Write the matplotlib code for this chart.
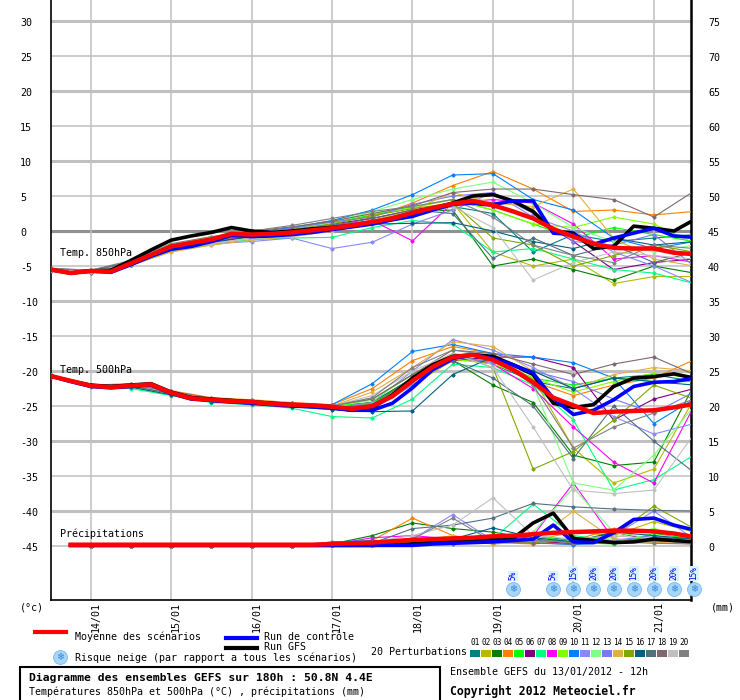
import matplotlib
matplotlib.use("Agg")
import matplotlib.pyplot as plt
import matplotlib.transforms as mtransforms
from matplotlib.lines import Line2D
from matplotlib.patches import Rectangle

plt.rcParams['font.family'] = ['DejaVu Sans Mono', 'DejaVu Sans']

# hours after the 13/01/2012 12h run
hours6 = list(range(0, 193, 6))
hours12 = list(range(0, 193, 12))
rain_hours6 = hours6[1:]
rain_hours12 = hours12[1:]

day_ticks = [12, 36, 60, 84, 108, 132, 156, 180]
day_labels = ['14/01', '15/01', '16/01', '17/01', '18/01', '19/01', '20/01', '21/01']

# mean of the scenarios, control run, GFS run (6-hourly)
mean_t850 = [-5.5, -6.0, -5.7, -5.8, -4.6, -3.4, -2.2, -1.7, -1.2, -0.4, -0.5, -0.4, -0.2, 0.1,
             0.4, 0.8, 1.3, 1.8, 2.6, 3.3, 3.9, 4.3, 3.7, 2.8, 1.8, 0.3, -0.8, -1.8, -2.4, -2.5,
             -2.5, -3.1, -3.3]
ctrl_t850 = [-5.5, -6.0, -5.7, -5.9, -4.8, -3.6, -2.6, -2.2, -1.5, -0.6, -0.8, -0.7, -0.5, -0.2,
             0.2, 0.6, 1.0, 1.6, 2.1, 3.0, 3.8, 4.0, 3.8, 4.3, 4.3, -0.3, -0.5, -1.9, -1.0, -0.3,
             0.4, -0.7, -0.9]
gfs_t850 = [-5.5, -6.0, -5.7, -5.6, -4.2, -2.7, -1.3, -0.7, -0.2, 0.5, 0.0, -0.2, 0.0, 0.3,
            0.5, 0.8, 1.2, 1.8, 2.3, 3.2, 4.0, 5.0, 5.2, 4.3, 2.8, 0.0, -0.3, -2.5, -2.2, 0.7,
            0.4, 0.0, 1.6]

mean_t500 = [-20.7, -21.4, -22.1, -22.3, -22.1, -21.9, -23.1, -23.9, -24.1, -24.3, -24.4, -24.7,
             -24.8, -24.9, -25.1, -25.4, -25.0, -23.6, -21.4, -19.4, -18.0, -17.7, -18.4, -19.8,
             -21.6, -23.8, -24.9, -26.0, -25.8, -25.7, -25.6, -25.2, -24.7]
ctrl_t500 = [-20.7, -21.5, -22.2, -22.4, -22.2, -22.0, -23.2, -24.0, -24.2, -24.4, -24.6, -24.8,
             -25.0, -25.1, -25.3, -25.6, -25.6, -24.6, -22.4, -19.8, -18.2, -17.7, -18.2, -19.1,
             -20.3, -23.9, -26.2, -25.6, -24.1, -22.2, -21.6, -21.5, -21.0]
gfs_t500 = [-20.7, -21.4, -22.0, -22.2, -22.0, -21.8, -23.0, -23.8, -24.0, -24.2, -24.4, -24.6,
            -24.8, -25.0, -25.2, -25.6, -25.2, -23.4, -21.0, -19.1, -17.9, -17.7, -17.9, -19.1,
            -20.5, -24.6, -25.2, -24.8, -22.2, -21.0, -20.8, -20.4, -21.0]

# precipitation (mm), from +6h
mean_rr = [0.2, 0.2, 0.2, 0.2, 0.2, 0.2, 0.2, 0.2, 0.2, 0.2, 0.2, 0.2, 0.2, 0.3, 0.4, 0.5,
           0.7, 0.9, 1.0, 1.1, 1.2, 1.4, 1.5, 1.7, 1.9, 2.0, 2.1, 2.2, 2.2, 2.1, 1.8, 1.3]
ctrl_rr = [0.1, 0.1, 0.1, 0.1, 0.1, 0.1, 0.1, 0.1, 0.1, 0.1, 0.1, 0.1, 0.1, 0.1, 0.1, 0.1,
           0.1, 0.1, 0.3, 0.4, 0.5, 0.6, 0.8, 1.0, 3.0, 0.6, 0.5, 1.9, 3.8, 4.0, 3.0, 2.3]
gfs_rr = [0.1, 0.1, 0.1, 0.1, 0.1, 0.1, 0.1, 0.1, 0.1, 0.1, 0.1, 0.1, 0.1, 0.1, 0.1, 0.1,
          0.2, 0.3, 0.5, 0.6, 0.8, 0.9, 1.1, 3.3, 4.7, 1.1, 0.8, 0.5, 0.6, 1.0, 0.8, 0.6]

# 20 perturbations (12-hourly)
pert_colors = ['#008080', '#b8b800', '#008000', '#ff8000', '#00ff00', '#800080', '#00ff80',
               '#ff00ff', '#80ff00', '#0080ff', '#8888ff', '#80ff80', '#7878f8', '#e0b040',
               '#80a800', '#006080', '#507080', '#806870', '#c0c0c0', '#808080']

pert_t850 = [
    [-5.6, -5.9, -4.8, -2.7, -1.5, -0.7, -0.2, 0.6, 1.4, 2.6, 3.5, 2.5, -3.0, -0.5, -1.5, -1.0, -0.5],
    [-5.5, -5.7, -4.6, -2.5, -1.5, -0.7, -0.3, 0.6, 1.5, 2.5, 4.0, -3.0, -5.0, -4.0, -7.5, -6.5, -6.5],
    [-5.6, -5.9, -4.5, -2.3, -1.6, -0.8, -0.2, 0.5, 1.5, 2.8, 3.0, -5.0, -4.0, -5.5, -7.0, -5.0, -6.0],
    [-5.5, -5.8, -4.9, -2.9, -1.8, -1.0, -0.5, 0.5, 2.0, 4.0, 6.5, 8.5, 6.0, 2.8, 3.0, 2.3, 2.8],
    [-5.5, -5.7, -4.5, -2.2, -1.0, -0.3, 0.5, 1.2, 2.3, 3.5, 4.5, 3.0, 1.0, -1.0, 0.5, -0.5, -1.5],
    [-5.6, -5.9, -4.6, -2.4, -1.3, -0.5, 0.2, 1.0, 1.8, 3.0, 4.0, 3.5, 2.0, -1.5, -5.5, -4.5, -4.0],
    [-5.6, -6.0, -4.9, -2.8, -2.0, -1.2, -1.0, -0.9, 0.5, 1.5, 1.0, -3.0, -2.5, -4.0, -5.5, -6.0, -7.5],
    [-5.7, -6.0, -4.8, -2.6, -1.7, -0.6, 0.2, 0.8, 1.5, -1.4, 4.0, 4.5, 4.0, 1.0, -4.0, -3.5, -4.5],
    [-5.5, -5.7, -4.4, -2.0, -0.8, -0.2, 0.4, 1.5, 2.5, 3.3, 4.5, 3.0, 1.0, 0.5, 2.0, 1.0, -1.7],
    [-5.6, -5.9, -4.8, -2.6, -1.4, -0.2, 0.5, 1.5, 3.0, 5.2, 8.0, 8.2, 4.5, 3.0, -1.0, -2.5, -1.5],
    [-5.5, -5.8, -4.6, -2.0, -1.8, -1.5, -1.0, -2.5, -1.6, 1.0, 3.0, 5.5, 2.0, 0.0, -3.0, -5.0, -7.5],
    [-5.5, -5.8, -4.7, -2.4, -1.2, -0.4, 0.3, 1.2, 2.8, 4.5, 6.0, 7.0, 4.0, 0.5, -1.5, -3.0, -2.0],
    [-5.4, -5.6, -4.5, -2.2, -1.2, -0.3, 0.4, 1.3, 2.0, 3.8, 5.0, 5.5, 2.5, -1.5, -2.0, -0.5, -5.0],
    [-5.6, -5.9, -4.9, -3.0, -2.0, -1.3, -0.8, 0.0, 1.5, 3.0, 5.5, 4.0, 3.5, 6.0, -1.0, -4.0, -5.0],
    [-5.5, -5.8, -4.6, -2.3, -1.1, -0.5, 0.2, 1.0, 2.2, 3.2, 4.0, -1.0, -2.0, -5.0, -3.5, -2.0, -3.0],
    [-5.5, -5.8, -4.7, -2.6, -1.6, -0.8, -0.3, 0.6, 1.0, 1.1, 1.2, 0.0, -1.5, -2.5, -1.0, -2.0, -1.5],
    [-5.4, -5.7, -4.5, -2.4, -1.3, -0.6, 0.0, 0.8, 1.8, 3.0, 2.5, -3.9, -1.0, -3.5, -2.0, -4.5, -3.0],
    [-5.4, -5.6, -4.4, -2.0, -1.0, 0.0, 0.6, 1.4, 2.5, 3.6, 5.5, 6.0, 6.0, 5.2, 4.5, 2.0, 5.7],
    [-5.5, -5.8, -4.7, -2.6, -1.8, -1.0, -0.8, 0.0, 1.0, 2.0, 3.5, 0.5, -7.0, -4.5, -3.0, -3.5, -4.0],
    [-5.3, -5.6, -4.2, -1.8, -0.8, 0.0, 0.8, 1.8, 2.8, 3.5, 4.5, 2.0, -2.0, -3.5, -4.5, -2.0, -2.5],
]

pert_t500 = [
    [-20.7, -22.1, -22.1, -23.1, -24.1, -24.4, -24.8, -25.1, -24.5, -21.0, -18.0, -19.0, -21.5, -22.5, -21.0, -20.5, -21.5],
    [-20.7, -22.1, -22.1, -23.0, -24.0, -24.3, -24.7, -25.0, -24.7, -22.0, -18.5, -18.5, -21.0, -31.0, -36.0, -34.0, -24.0],
    [-20.7, -22.1, -22.2, -23.0, -24.0, -24.3, -24.8, -25.0, -24.5, -21.0, -18.5, -22.0, -24.5, -32.0, -33.5, -33.0, -22.0],
    [-20.6, -22.0, -21.8, -22.8, -23.8, -24.1, -24.5, -24.8, -22.5, -18.5, -16.5, -17.5, -21.5, -23.5, -22.0, -21.0, -18.4],
    [-20.6, -22.0, -22.0, -23.0, -24.0, -24.3, -24.6, -24.9, -24.6, -21.2, -18.0, -18.5, -21.0, -22.0, -21.0, -21.5, -21.5],
    [-20.8, -22.2, -22.2, -23.2, -24.2, -24.5, -24.9, -25.2, -24.8, -21.5, -18.5, -18.0, -18.0, -19.5, -27.0, -24.0, -22.5],
    [-20.8, -22.3, -22.5, -23.5, -24.5, -24.8, -25.3, -26.5, -26.7, -24.0, -19.0, -19.5, -22.0, -27.0, -37.0, -35.5, -32.0],
    [-20.7, -22.1, -22.2, -23.1, -24.2, -24.5, -24.9, -25.2, -25.0, -21.5, -18.0, -19.0, -22.5, -28.0, -33.0, -36.0, -25.0],
    [-20.7, -22.1, -22.0, -23.1, -24.0, -24.4, -24.8, -25.0, -24.8, -21.5, -18.3, -19.0, -21.0, -23.0, -21.5, -20.3, -21.0],
    [-20.6, -22.0, -22.0, -23.0, -24.0, -24.3, -24.7, -24.8, -21.8, -17.2, -16.2, -17.5, -18.0, -18.8, -21.0, -27.5, -24.0],
    [-20.7, -22.1, -22.0, -23.0, -24.1, -24.5, -24.9, -25.3, -24.5, -20.0, -15.5, -17.0, -19.5, -22.5, -26.5, -29.0, -27.5],
    [-20.6, -22.0, -22.0, -23.1, -24.1, -24.4, -24.8, -25.0, -24.2, -20.5, -17.5, -18.0, -22.0, -36.0, -37.0, -32.0, -25.0],
    [-20.7, -22.1, -22.1, -23.2, -24.2, -24.6, -25.0, -25.4, -25.5, -22.0, -17.8, -18.8, -20.0, -21.5, -24.0, -26.0, -23.0],
    [-20.8, -22.2, -22.3, -23.3, -24.2, -24.5, -24.9, -25.0, -23.0, -19.5, -15.8, -16.5, -20.0, -22.5, -20.5, -19.5, -20.0],
    [-20.7, -22.0, -22.0, -23.2, -24.2, -24.5, -24.9, -25.0, -24.0, -20.5, -17.5, -19.5, -34.0, -31.5, -27.0, -22.0, -24.0],
    [-20.8, -22.2, -22.3, -23.4, -24.4, -24.7, -25.1, -25.5, -25.8, -25.7, -20.5, -18.0, -20.0, -22.5, -21.0, -21.5, -22.0],
    [-20.6, -22.0, -22.1, -23.2, -24.3, -24.6, -25.0, -25.2, -24.8, -21.0, -18.5, -21.0, -25.0, -32.5, -25.0, -30.0, -34.5],
    [-20.7, -22.0, -21.9, -22.9, -23.9, -24.2, -24.6, -24.9, -24.0, -20.5, -17.0, -17.5, -19.0, -20.5, -19.0, -18.0, -20.5],
    [-20.6, -22.0, -22.0, -23.0, -24.0, -24.4, -24.8, -25.0, -23.5, -20.0, -17.5, -19.5, -28.0, -37.0, -37.5, -37.0, -29.0],
    [-20.6, -22.0, -21.9, -23.0, -24.0, -24.3, -24.7, -25.0, -23.8, -19.5, -17.0, -17.8, -22.0, -31.0, -28.0, -26.0, -24.0],
]

pert_rr = [
    [0, 0, 0, 0, 0, 0, 0.2, 0.5, 0.8, 1.0, 0.5, 1.5, 0.8, 0.5, 1.0, 0.6],
    [0, 0, 0, 0, 0, 0, 0.1, 0.3, 0.5, 1.2, 0.3, 0.8, 2.0, 1.5, 3.5, 2.0],
    [0, 0, 0, 0, 0, 0, 0.3, 1.5, 3.3, 2.5, 2.0, 1.0, 0.5, 0.8, 1.2, 1.0],
    [0, 0, 0, 0, 0, 0, 0.2, 0.8, 4.0, 1.5, 0.5, 0.3, 0.8, 2.5, 0.5, 0.3],
    [0, 0, 0, 0, 0, 0, 0.1, 0.4, 0.6, 0.8, 1.0, 1.5, 0.5, 0.3, 1.8, 1.0],
    [0, 0, 0, 0, 0, 0, 0.2, 0.6, 0.9, 0.5, 0.4, 0.8, 0.3, 2.0, 0.8, 0.5],
    [0, 0, 0, 0, 0, 0, 0.1, 0.3, 0.5, 0.8, 1.0, 6.0, 1.5, 0.8, 1.0, 0.6],
    [0, 0, 0, 0, 0, 0, 0.2, 1.2, 1.5, 1.0, 0.6, 1.5, 9.0, 1.0, 0.8, 0.5],
    [0, 0, 0, 0, 0, 0, 0.1, 0.3, 0.6, 1.5, 0.4, 0.6, 0.8, 1.2, 2.5, 1.2],
    [0, 0, 0, 0, 0, 0, 0.6, 0.8, 0.5, 0.3, 0.8, 0.5, 0.2, 0.5, 0.8, 0.3],
    [0, 0, 0, 0, 0, 0, 0.3, 0.5, 1.0, 4.5, 0.8, 0.5, 1.0, 1.5, 5.0, 1.0],
    [0, 0, 0, 0, 0, 0, 0.1, 0.2, 0.5, 0.8, 0.6, 2.0, 8.3, 2.0, 1.0, 0.8],
    [0, 0, 0, 0, 0, 0, 0.2, 0.4, 0.8, 1.2, 0.5, 0.8, 0.6, 0.8, 1.5, 0.6],
    [0, 0, 0, 0, 0, 0, 0.1, 0.3, 0.5, 0.8, 0.3, 0.6, 5.0, 1.0, 0.5, 0.4],
    [0, 0, 0, 0, 0, 0, 0.1, 0.2, 0.4, 0.6, 0.8, 0.5, 1.0, 1.5, 5.7, 2.5],
    [0, 0, 0, 0, 0, 0, 0.2, 0.5, 0.7, 1.0, 2.6, 1.2, 0.6, 2.0, 1.5, 1.0],
    [0, 0, 0, 0, 0, 0, 0.1, 0.4, 2.5, 3.0, 4.0, 6.1, 5.6, 5.3, 5.1, 5.0],
    [0, 0, 0, 0, 0, 0, 0.1, 0.2, 0.3, 0.5, 0.6, 0.4, 0.3, 0.5, 0.8, 0.6],
    [0, 0, 0, 0, 0, 0, 0.1, 0.6, 1.5, 3.0, 6.9, 1.5, 1.0, 1.5, 1.0, 0.8],
    [0, 0, 0, 0, 0, 0, 0.1, 0.5, 1.0, 4.0, 0.6, 0.8, 0.5, 0.6, 0.4, 0.3],
]

# snow risk (%)
snow_hours = [138, 150, 156, 162, 168, 174, 180, 186, 192]
snow_risk = [5, 5, 15, 20, 20, 15, 20, 20, 15]

rain_base = -45  # 0 mm sits on the -45 C line
W, H = 740, 700


def fx(x):
    return x / W


def fy(y):
    return 1 - y / H


def snow_icon(x, y, transform, target):
    # light blue disc with a small flake on it
    disc = Line2D([x], [y], marker='o', ms=10, color='#a6d6f8', mec='#7ab8ee', mew=0.6,
                  transform=transform, clip_on=False, zorder=7)
    target.add_artist(disc)
    target.text(x, y, '\u2744', family='DejaVu Sans', fontsize=7, color='#3a86dc',
                ha='center', va='center', transform=transform, clip_on=False, zorder=8)


fig = plt.figure(figsize=(W / 100, H / 100), dpi=100)
ax = fig.add_axes([fx(50.5), fy(600), 640.2 / W, 600 / H])
ax.set_xlim(0, 191)
ax.set_ylim(-52.7, 33.0)
ax.set_xticks([])
ax.set_yticks([])
ax.spines['top'].set_visible(False)
ax.spines['left'].set_linewidth(1.2)
ax.spines['bottom'].set_linewidth(1.2)
ax.spines['right'].set_linewidth(1.8)

# grid
for lev in range(30, -50, -5):
    if lev == 0:
        ax.axhline(lev, color='#909090', lw=2.2, zorder=1)
    elif lev % 10 == 0:
        ax.axhline(lev, color='#c0c0c0', lw=2.2, zorder=1)
    else:
        ax.axhline(lev, color='#c0c0c0', lw=1.1, zorder=1)
for t in day_ticks:
    ax.axvline(t, color='#c0c0c0', lw=1.1, zorder=1)

# perturbations
for i in range(20):
    c = pert_colors[i]
    kw = dict(color=c, lw=0.8, marker='D', ms=1.6, zorder=3)
    ax.plot(hours12, pert_t850[i], **kw)
    ax.plot(hours12, pert_t500[i], **kw)
    ax.plot(rain_hours12, [rain_base + v for v in pert_rr[i]], **kw)

# GFS, control, mean
ax.plot(hours6, gfs_t850, color='black', lw=2.6, zorder=4)
ax.plot(hours6, gfs_t500, color='black', lw=2.6, zorder=4)
ax.plot(rain_hours6, [rain_base + v for v in gfs_rr], color='black', lw=2.6, zorder=4)
ax.plot(hours6, ctrl_t850, color='#0000ff', lw=2.6, zorder=5)
ax.plot(hours6, ctrl_t500, color='#0000ff', lw=2.6, zorder=5)
ax.plot(rain_hours6, [rain_base + v for v in ctrl_rr], color='#0000ff', lw=2.6, zorder=5)
ax.plot(hours6, mean_t850, color='#ff0000', lw=3.2, zorder=6)
ax.plot(hours6, mean_t500, color='#ff0000', lw=3.2, zorder=6)
ax.plot(rain_hours6, [rain_base + v for v in mean_rr], color='#ff0000', lw=3.2, zorder=6)

# in-plot labels
ax.text(2.8, -3.2, 'Temp. 850hPa', fontsize=7.2, va='center', zorder=7)
ax.text(2.8, -19.8, 'Temp. 500hPa', fontsize=7.2, va='center', zorder=7)
ax.text(2.8, -43.3, 'Précipitations', fontsize=7.2, va='center', zorder=7)

# snow risk
for t, r in zip(snow_hours, snow_risk):
    snow_icon(t, -51.1, ax.transData, ax)
    ax.text(t, -49.9, f'{r}%', rotation=90, fontsize=5.5, color='#0000ff',
            ha='center', va='bottom', clip_on=False, zorder=7,
            bbox=dict(facecolor='#d8f4ff', edgecolor='none', pad=0.4))

# axis labels
left_tr = mtransforms.blended_transform_factory(fig.transFigure, ax.transData)
for v in range(30, -50, -5):
    fig.text(fx(20), v - 0.3, str(v), transform=left_tr, fontsize=7.2, ha='left', va='center')
for mm in range(75, -1, -5):
    fig.text(fx(708), mm - 45 - 0.3, str(mm), transform=left_tr, fontsize=7.2, ha='left', va='center')

shift = mtransforms.ScaledTranslation(0.05, -0.02, fig.dpi_scale_trans)
for t, lab in zip(day_ticks, day_labels):
    ax.text(t, 0, lab, transform=ax.get_xaxis_transform() + shift, rotation=90,
            fontsize=7.2, ha='center', va='top')

fig.text(fx(20), fy(607), '(°c)', fontsize=7.2, va='center')
fig.text(fx(711), fy(607), '(mm)', fontsize=7.2, va='center')

# legend
fig.add_artist(Line2D([fx(35.4), fx(66)], [fy(631.5), fy(631.5)], color='#ff0000', lw=3))
fig.text(fx(74.6), fy(637), 'Moyenne des scénarios', fontsize=7.2, va='center')
fig.add_artist(Line2D([fx(225.8), fx(256.5)], [fy(637.5), fy(637.5)], color='#0000ff', lw=3))
fig.text(fx(264.5), fy(637), 'Run de contrôle', fontsize=7.2, va='center')
fig.add_artist(Line2D([fx(225.8), fx(256.5)], [fy(647.5), fy(647.5)], color='black', lw=3))
fig.text(fx(264.5), fy(647.5), 'Run GFS', fontsize=7.2, va='center')
snow_icon(fx(60), fy(657), fig.transFigure, fig)
fig.text(fx(74.6), fy(657.5), 'Risque neige (par rapport a tous les scénarios)', fontsize=7.2,
         va='center')
fig.text(fx(370.8), fy(652), '20 Perturbations', fontsize=7.2, va='center')
for i, c in enumerate(pert_colors):
    x0 = 470 + 11 * i
    fig.text(fx(x0 + 5), fy(642.5), f'{i + 1:02d}', fontsize=5.6, ha='center', va='center')
    fig.add_artist(Rectangle((fx(x0), fy(656.5)), 10 / W, 7 / H, facecolor=c,
                             edgecolor='none', transform=fig.transFigure))

# footer boxes
fig.add_artist(Rectangle((fx(19.8), fy(702)), 420.2 / W, 34.7 / H, facecolor='white',
                         edgecolor='black', lw=1.5, transform=fig.transFigure))
fig.text(fx(29.3), fy(677.5), 'Diagramme des ensembles GEFS sur 180h : 50.8N 4.4E',
         fontsize=8.2, weight='bold', va='center')
fig.text(fx(29.3), fy(692), 'Températures 850hPa et 500hPa (°C) , précipitations (mm)',
         fontsize=7.2, va='center')
fig.text(fx(450), fy(672), 'Ensemble GEFS du 13/01/2012 - 12h', fontsize=7.2, va='center')
fig.text(fx(450), fy(691), 'Copyright 2012 Meteociel.fr', fontsize=8.3, weight='bold',
         va='center')

fig.savefig('out.png', dpi=100)
